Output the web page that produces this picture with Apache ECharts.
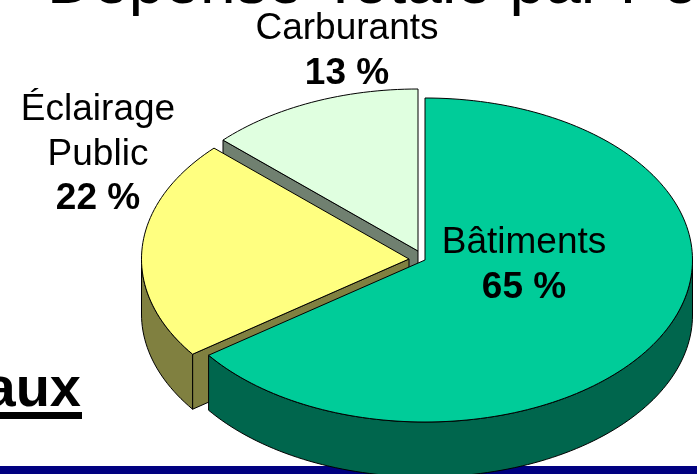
<!DOCTYPE html>
<html>
<head>
<meta charset="utf-8">
<style>html,body{margin:0;padding:0;background:#fff}#c{width:697px;height:474px}</style>
<script src="https://cdn.jsdelivr.net/npm/echarts@6/dist/echarts.min.js"></script>
</head>
<body>
<div id="c"></div>
<script>
// Data, in clockwise order from 12 o'clock
var categories = ['Bâtiments', 'Éclairage\nPublic', 'Carburants'];
var shares = [65, 22, 13];
var titleText = 'Dépense Totale par Poste';
var fragmentText = 'aux';

// Drawing configuration (layout and styles only)
var RX = 267.5, RY = 162, DEPTH = 55;
var apexes = [[425, 260], [409, 259], [418, 251]];
var topColors = ['#00CC99', '#FFFF80', '#E0FFE0'];
var sideColors = ['#00664D', '#808040', '#708070'];
var layers = [30, 20, 10];
var labelAnchors = [[524, 243], [98, 110], [347, 29]];
var FONT = '"Liberation Sans", Arial, sans-serif';
var LABEL_SIZE = 37, LABEL_LINE = 44.5;

function pt(c, deg, dy) {
  var a = deg * Math.PI / 180;
  return [c[0] + RX * Math.sin(a), c[1] - RY * Math.cos(a) + (dy || 0)];
}
function arc(c, from, to, dy) {
  var n = Math.max(2, Math.ceil(Math.abs(to - from) / 1.5)), out = [];
  for (var k = 0; k <= n; k++) out.push(pt(c, from + (to - from) * k / n, dy));
  return out;
}
var total = shares.reduce(function (a, b) { return a + b; }, 0);

function renderItem(params, api) {
  var i = params.dataIndex, value = api.value(0);
  var start = 0;
  for (var k = 0; k < i; k++) start += shares[k] / total * 360;
  var end = start + value / total * 360;
  var c = apexes[i], z = layers[i], kids = [];
  var edge = { stroke: '#000', lineWidth: 1, lineJoin: 'round' };
  function poly(points, fill, zOff) {
    kids.push({ type: 'polygon', z2: z + zOff, shape: { points: points },
      style: Object.assign({ fill: fill }, edge) });
  }
  // cut faces: extruded radial walls, only those that face the viewer
  function wall(ang) {
    var rim = pt(c, ang);
    poly([c, rim, [rim[0], rim[1] + DEPTH], [c[0], c[1] + DEPTH]], sideColors[i], 0);
  }
  if (Math.sin(start * Math.PI / 180) < -1e-6) wall(start);
  if (Math.sin(end * Math.PI / 180) > 1e-6) wall(end);
  // outer wall: only the part of the rim that faces the viewer
  var f = Math.max(start, 90), t = Math.min(end, 270);
  if (t > f) {
    poly(arc(c, f, t, 0).concat(arc(c, t, f, DEPTH)), sideColors[i], 1);
  }
  // top face
  poly([c].concat(arc(c, start, end, 0)), topColors[i], 2);
  // label
  var lines = categories[i].split('\n'), a = labelAnchors[i];
  lines.forEach(function (s, j) {
    kids.push({ type: 'text', z2: 100, style: { text: s, x: a[0], y: a[1] + j * LABEL_LINE,
      font: LABEL_SIZE + 'px ' + FONT, fill: '#000', textAlign: 'center', textVerticalAlign: 'middle' } });
  });
  kids.push({ type: 'text', z2: 100, style: { text: value + ' %', x: a[0], y: a[1] + lines.length * LABEL_LINE,
    font: 'bold ' + LABEL_SIZE + 'px ' + FONT, fill: '#000', textAlign: 'center', textVerticalAlign: 'middle' } });
  return { type: 'group', children: kids };
}

var chart = echarts.init(document.getElementById('c'), null, { renderer: 'canvas' });
chart.setOption({
  animation: false,
  backgroundColor: '#fff',
  graphic: [
    { type: 'rect', z: -10, shape: { x: 0, y: 466, width: 697, height: 8 }, style: { fill: '#000080' } },
    { type: 'text', z: -10, style: { text: titleText, x: 47, y: -15, font: '64px ' + FONT, fill: '#000', textAlign: 'left', textVerticalAlign: 'middle' } },
    { type: 'text', z: -10, style: { text: fragmentText, x: 81, y: 391, font: 'bold 56px ' + FONT, fill: '#000', textAlign: 'right', textVerticalAlign: 'middle' } },
    { type: 'rect', z: -10, shape: { x: 0, y: 412, width: 82, height: 7 }, style: { fill: '#000' } }
  ],
  series: [{
    type: 'custom',
    coordinateSystem: 'none',
    silent: true,
    data: shares.map(function (v, i) { return { name: categories[i], value: v }; }),
    renderItem: renderItem
  }]
});
</script>
</body>
</html>
